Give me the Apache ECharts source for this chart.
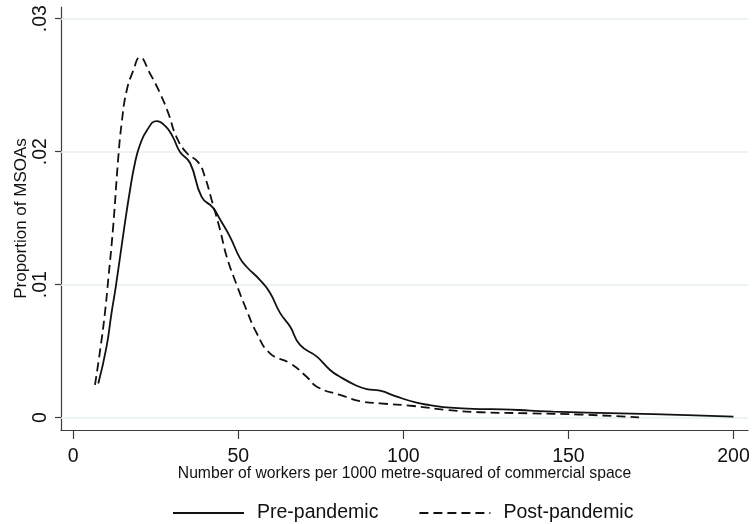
<!DOCTYPE html>
<html>
<head>
<meta charset="utf-8">
<script src="https://cdn.jsdelivr.net/npm/echarts@6/dist/echarts.min.js"></script>
<style>
  html, body { margin: 0; padding: 0; background: #fff; }
  #chart { width: 755px; height: 524px; }
</style>
</head>
<body>
<div id="chart"></div>
<script>
// Kernel density of workers per 1000 m² of commercial space, by MSOA
const prePandemicX = [7.6, 10.1, 11.6, 12.9, 15.5, 17.2, 18.7, 20.2, 22.3, 25.3, 28.0, 30.2, 32.3, 35.4, 38.9, 42.3, 44.5, 47.5, 50.5, 52.5, 56.6, 59.6, 62.6, 65.7, 68.7, 73.8, 77.8, 80.8, 85.4, 88.9, 92.9, 98, 104, 108, 114.2, 123.2, 130.2, 138.4, 145.4, 165.7, 185.9, 200];
const prePandemicY = [0.00257, 0.00534, 0.00787, 0.00985, 0.01436, 0.0171, 0.01915, 0.0205, 0.0216, 0.0223, 0.0219, 0.0211, 0.0200, 0.01915, 0.0166, 0.0158, 0.0149, 0.0136, 0.0120, 0.01135, 0.01035, 0.0094, 0.0079, 0.00685, 0.00547, 0.00459, 0.00359, 0.00308, 0.00246, 0.00214, 0.00203, 0.00158, 0.00113, 0.00095, 0.00075, 0.00065, 0.00063, 0.00053, 0.00045, 0.00033, 0.0002, 0.00008];

const postPandemicX = [6.6, 8.3, 9.6, 10.6, 12.1, 13.6, 14.7, 16.2, 18.2, 20.2, 23.2, 26.3, 28.8, 31.3, 34.4, 37.9, 39.9, 41.9, 44.5, 46.5, 49.5, 52.5, 55.6, 59.6, 65.7, 70.7, 73.8, 80.8, 87.9, 92.9, 103, 113.2, 123.2, 138.4, 153, 171.4];
const postPandemicY = [0.00246, 0.00534, 0.00787, 0.01035, 0.01436, 0.0194, 0.0222, 0.0246, 0.0261, 0.0271, 0.0259, 0.0244, 0.0229, 0.0211, 0.0199, 0.0192, 0.0181, 0.0164, 0.0141, 0.0121, 0.0100, 0.0081, 0.00635, 0.00484, 0.00409, 0.00308, 0.00233, 0.00171, 0.0012, 0.00108, 0.00088, 0.00058, 0.00041, 0.00033, 0.00024, 0.00003];

const xTicks = [0, 50, 100, 150, 200];
const yTicks = [0, 0.01, 0.02, 0.03];
const yTickLabels = ['0', '.01', '.02', '.03'];

const seriesNames = ['Pre-pandemic', 'Post-pandemic'];

function pairs(xs, ys) {
  return xs.map((x, i) => [x, ys[i]]);
}

const FONT = '"Liberation Sans", Arial, sans-serif';
const AXIS_COLOR = '#3c3c3c';

const chart = echarts.init(document.getElementById('chart'), null, { renderer: 'canvas' });

chart.setOption({
  animation: false,
  backgroundColor: '#ffffff',
  textStyle: { fontFamily: FONT, color: '#111' },
  grid: { left: 61, right: 7, top: 7, bottom: 94, containLabel: false, outerBoundsMode: 'none' },
  xAxis: {
    type: 'value',
    min: -3.7,
    max: 204.4,
    name: 'Number of workers per 1000 metre-squared of commercial space',
    nameLocation: 'middle',
    nameGap: 36,
    nameMoveOverlap: false,
    nameTextStyle: { fontFamily: FONT, fontSize: 15.7, color: '#111' },
    axisLine: { show: true, onZero: false, lineStyle: { color: AXIS_COLOR, width: 1.2 } },
    axisTick: { show: true, customValues: xTicks, length: 9, lineStyle: { color: AXIS_COLOR, width: 1.2 } },
    axisLabel: {
      customValues: xTicks,
      fontFamily: FONT, fontSize: 19.5, color: '#111', margin: 17,
      formatter: v => String(v)
    },
    splitLine: { show: false }
  },
  yAxis: {
    type: 'value',
    min: -0.000925,
    max: 0.03088,
    name: 'Proportion of MSOAs',
    nameLocation: 'middle',
    nameGap: 31,
    nameMoveOverlap: false,
    nameRotate: 90,
    nameTextStyle: { fontFamily: FONT, fontSize: 17, color: '#111' },
    axisLine: { show: true, onZero: false, lineStyle: { color: AXIS_COLOR, width: 1.2 } },
    axisTick: { show: true, customValues: yTicks, length: 6, lineStyle: { color: AXIS_COLOR, width: 1.2 } },
    axisLabel: {
      customValues: yTicks,
      rotate: 90,
      fontFamily: FONT, fontSize: 19.5, color: '#111', margin: 10,
      formatter: v => {
        const i = yTicks.findIndex(t => Math.abs(t - v) < 1e-9);
        return i >= 0 ? yTickLabels[i] : '';
      }
    },
    splitLine: { show: false }
  },
  legend: {
    top: 498,
    left: 167,
    itemWidth: 71,
    itemHeight: 14,
    itemGap: 40,
    itemStyle: { opacity: 0 },
    textStyle: { fontFamily: FONT, fontSize: 19.5, color: '#111', padding: [0, 0, 0, 8] },
    data: seriesNames
  },
  series: [
    {
      name: seriesNames[0],
      type: 'line',
      data: pairs(prePandemicX, prePandemicY),
      smooth: 0.5,
      symbol: 'none',
      lineStyle: { color: '#111', width: 1.8, type: 'solid' },
      itemStyle: { color: '#111' },
      z: 3,
      markLine: {
        silent: true,
        symbol: 'none',
        label: { show: false },
        lineStyle: { color: '#e6efef', width: 1.5, type: 'solid' },
        data: yTicks.map(v => ({ yAxis: v })),
        z: 1
      }
    },
    {
      name: seriesNames[1],
      type: 'line',
      data: pairs(postPandemicX, postPandemicY),
      smooth: 0.5,
      symbol: 'none',
      lineStyle: { color: '#111', width: 1.8, type: [9, 5] },
      itemStyle: { color: '#111' },
      z: 3
    }
  ]
});
</script>
</body>
</html>
